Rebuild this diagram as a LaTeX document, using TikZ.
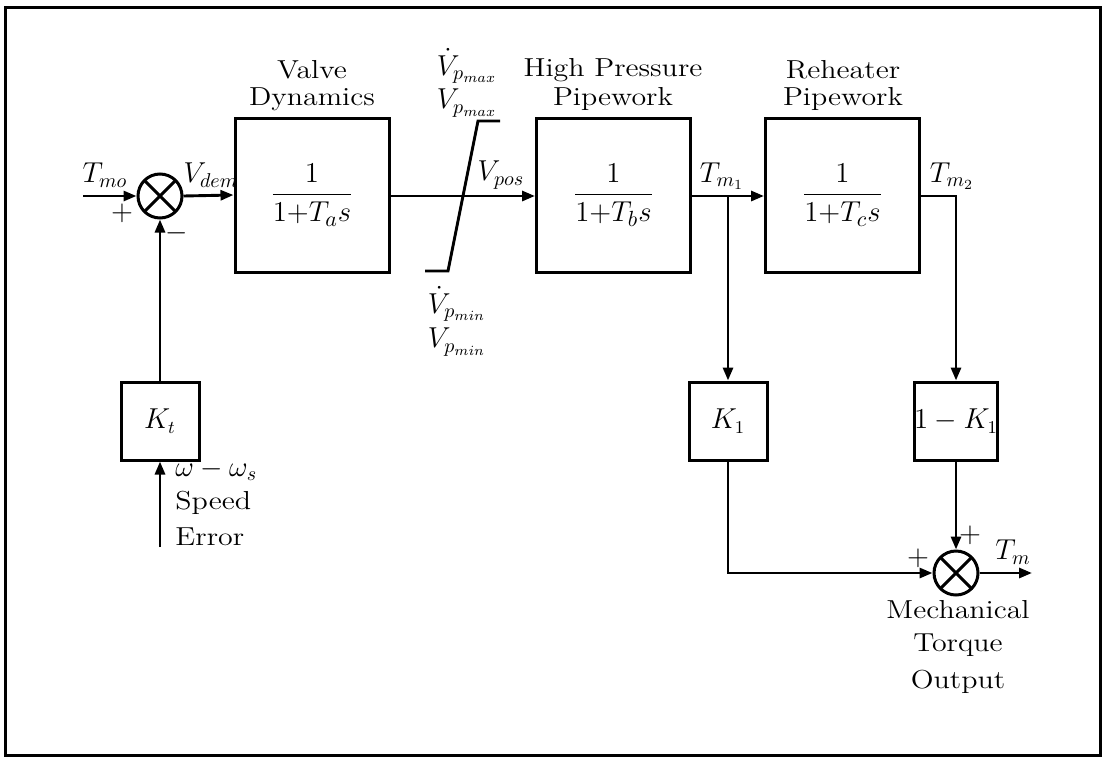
\documentclass[tikz,border=0pt]{standalone}
\usetikzlibrary{arrows.meta}
\newcommand{\wx}[1]{\scalebox{1.15}[1]{#1}}
\begin{document}
\begin{tikzpicture}[x=0.5pt,y=-0.5pt,line width=1.45pt,
  font=\fontsize{13}{15.6}\selectfont,
  blk/.style={draw,line width=1.5pt,inner sep=0pt,minimum width=77pt,minimum height=77pt,
    font=\fontsize{15}{18}\selectfont},
  gain/.style={draw,line width=1.5pt,inner sep=0pt,minimum size=39pt,font=\fontsize{13.5}{16}\selectfont},
  sumj/.style={draw,circle,line width=1.5pt,inner sep=0pt,minimum size=22pt,
    path picture={\draw[line width=1.5pt]
      (path picture bounding box.north west)--(path picture bounding box.south east)
      (path picture bounding box.north east)--(path picture bounding box.south west);}},
  sig/.style={-{Triangle[length=6.5pt,width=5pt]}},
  lbl/.style={inner sep=1pt},
  mlbl/.style={inner sep=0pt,font=\fontsize{14}{16}\selectfont}]
\useasboundingbox (0,0) rectangle (1106,760);
\draw[line width=1.5pt] (5,7) rectangle (1100,755);

% blocks
\node[sumj] (s1) at (160,196) {};
\node[blk] (ta) at (312,195) {$\displaystyle\frac{1}{1{+}T_a s}$};
\node[blk] (hp) at (613.5,195) {$\displaystyle\frac{1}{1{+}T_b s}$};
\node[blk] (tc) at (842.5,195) {$\displaystyle\frac{1}{1{+}T_c s}$};
\node[gain] (kt) at (160,421) {$K_t$};
\node[gain] (k1) at (728,421) {$K_1$};
\node[gain] (k2) at (956,421) {$1-K_1$};
\node[sumj] (s2) at (956,573) {};

% free ends and limiter
\coordinate (tmo) at (83,196);
\coordinate (err) at (160,547);
\coordinate (tmout) at (1032,573);
\coordinate (br) at (728,196);
\coordinate (la) at (425,271);
\coordinate (lb) at (448,271);
\coordinate (lc) at (478,121);
\coordinate (ld) at (500,121);

% connectors
\draw[sig] (tmo) -- (s1.west);
\draw[sig] (s1.east) -- (ta.west);
\draw[sig] (ta.east|-s1) -- (hp.west|-s1);
\draw (la) -- (lb) -- (lc) -- (ld);
\draw[sig] (hp.east|-s1) -- (tc.west|-s1);
\draw[sig] (br) -- (k1.north);
\draw[sig] (tc.east|-s1) -| (k2.north);
\draw[sig] (k1.south) |- (s2.west);
\draw[sig] (k2.south) -- (s2.north);
\draw[sig] (s2.east) -- (tmout);
\draw[sig] (kt.north) -- (s1.south);
\draw[sig] (err) -- (kt.south);

% labels
\node[mlbl] (lTmo) at (105,175) {$T_{mo}$};
\node[mlbl] (lp1) at (122,213) {$+$};
\node[mlbl] (lm1) at (177,233) {$-$};
\node[mlbl] (lVdem) at (211,175) {$V_{dem}$};
\node[lbl] (lValve) at (312,70) {\wx{Valve}};
\node[lbl] (lDyn) at (312,99) {\wx{Dynamics}};
\node[mlbl] (lVdmax) at (467,66) {$\dot V_{p_{max}}$};
\node[mlbl] (lVmax) at (467,103) {$V_{p_{max}}$};
\node[mlbl] (lVpos) at (501,175) {$V_{pos}$};
\node[mlbl] (lVdmin) at (457,304) {$\dot V_{p_{min}}$};
\node[mlbl] (lVmin) at (457,342) {$V_{p_{min}}$};
\node[lbl] (lHP) at (613,70) {\wx{High Pressure}};
\node[lbl] (lPipe1) at (613,99) {\wx{Pipework}};
\node[lbl] (lReh) at (843,70) {\wx{Reheater}};
\node[lbl] (lPipe2) at (843,99) {\wx{Pipework}};
\node[mlbl] (lTm1) at (722,176) {$T_{m_1}$};
\node[mlbl] (lTm2) at (952,176) {$T_{m_2}$};
\node[mlbl,anchor=west] (lw) at (174,470) {$\omega-\omega_s$};
\node[lbl,anchor=west] (lSpeed) at (172,503) {\wx{Speed}};
\node[lbl,anchor=west] (lError) at (172,537) {\wx{Error}};
\node[mlbl] (lp2) at (970,535) {$+$};
\node[mlbl] (lp3) at (918,558) {$+$};
\node[mlbl] (lTm) at (1013,552) {$T_m$};
\node[lbl] (lMech) at (958,610) {\wx{Mechanical}};
\node[lbl] (lTorq) at (958,645) {\wx{Torque}};
\node[lbl] (lOut) at (958,682) {\wx{Output}};
\end{tikzpicture}
\end{document}
